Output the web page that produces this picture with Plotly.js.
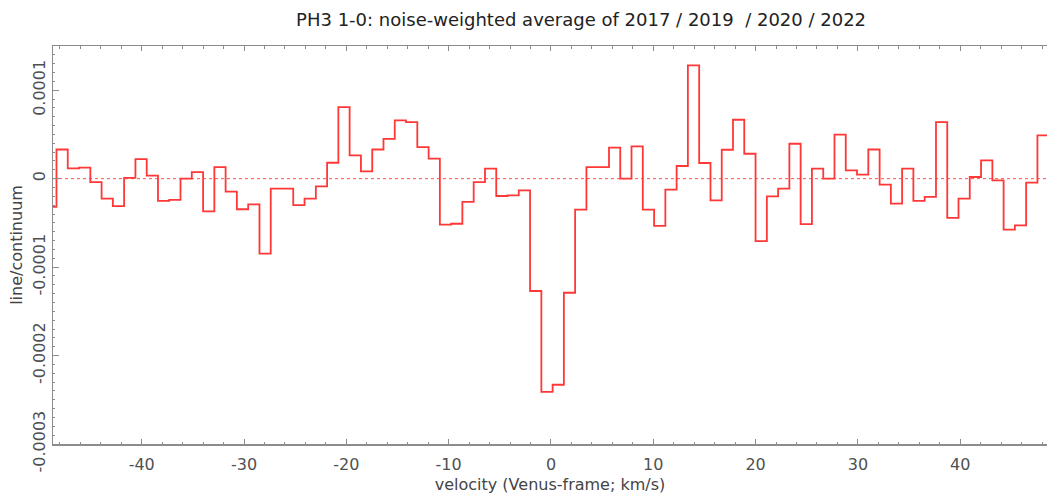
<!DOCTYPE html>
<html>
<head>
<meta charset="utf-8">
<script src="https://cdn.plot.ly/plotly-3.0.1.min.js"></script>
<style>
  html, body { margin: 0; padding: 0; background: #ffffff; }
  #chart { width: 1047px; height: 497px; }
</style>
</head>
<body>
<div id="chart"></div>
<script>
// Channel centres (Venus-frame velocity, km/s)
var velocity = [
  -48.88, -47.78, -46.68, -45.57, -44.47, -43.37, -42.27, -41.17, -40.06, -38.96,
  -37.86, -36.76, -35.66, -34.55, -33.45, -32.35, -31.25, -30.15, -29.04, -27.94,
  -26.84, -25.74, -24.64, -23.53, -22.43, -21.33, -20.23, -19.13, -18.02, -16.92,
  -15.82, -14.72, -13.62, -12.51, -11.41, -10.31, -9.21, -8.11, -7.00, -5.90,
  -4.80, -3.70, -2.60, -1.49, -0.39, 0.71, 1.81, 2.91, 4.02, 5.12,
  6.22, 7.32, 8.42, 9.53, 10.63, 11.73, 12.83, 13.93, 15.04, 16.14,
  17.24, 18.34, 19.44, 20.55, 21.65, 22.75, 23.85, 24.95, 26.06, 27.16,
  28.26, 29.36, 30.46, 31.57, 32.67, 33.77, 34.87, 35.97, 37.08, 38.18,
  39.28, 40.38, 41.48, 42.59, 43.69, 44.79, 45.89, 46.99, 48.10
];

// line/continuum for each channel
var lineContinuum = [
  -3.2e-5, 3.3e-5, 1.17e-5, 1.24e-5, -0.4e-5, -2.26e-5, -3.1e-5, 0.1e-5, 2.2e-5, 0.34e-5,
  -2.5e-5, -2.4e-5, 0.0, 0.75e-5, -3.7e-5, 1.3e-5, -1.47e-5, -3.46e-5, -2.9e-5, -8.47e-5,
  -1.13e-5, -1.13e-5, -3.0e-5, -2.26e-5, -0.87e-5, 1.8e-5, 8.1e-5, 2.63e-5, 0.83e-5, 3.3e-5,
  4.5e-5, 6.6e-5, 6.4e-5, 3.57e-5, 2.26e-5, -5.2e-5, -5.1e-5, -2.63e-5, -0.38e-5, 1.13e-5,
  -1.96e-5, -1.88e-5, -1.32e-5, -12.7e-5, -24.1e-5, -23.3e-5, -12.9e-5, -3.5e-5, 1.3e-5, 1.3e-5,
  3.5e-5, 0.0, 3.65e-5, -3.5e-5, -5.34e-5, -1.24e-5, 1.43e-5, 12.8e-5, 1.77e-5, -2.45e-5,
  3.27e-5, 6.66e-5, 2.82e-5, -7.07e-5, -2.0e-5, -1.13e-5, 3.95e-5, -5.15e-5, 1.13e-5, 0.0,
  4.97e-5, 0.94e-5, 0.45e-5, 3.3e-5, -0.68e-5, -2.82e-5, 1.13e-5, -2.52e-5, -2.07e-5, 6.4e-5,
  -4.44e-5, -2.26e-5, 0.19e-5, 2.07e-5, -0.19e-5, -5.76e-5, -5.27e-5, -0.45e-5, 4.9e-5
];

var yTickValues = [-0.0003, -0.0002, -0.0001, 0, 0.0001];
var yTickLabels = ['-0.0003', '-0.0002', '-0.0001', '0', '0.0001'];
var xTickValues = [-40, -30, -20, -10, 0, 10, 20, 30, 40];
var xTickLabels = ['-40', '-30', '-20', '-10', '0', '10', '20', '30', '40'];

// Histogram-style step: extend first/last channel by half a channel width
var n = velocity.length;
var dv = (velocity[n - 1] - velocity[0]) / (n - 1);
var stepX = [velocity[0] - dv / 2].concat(velocity, [velocity[n - 1] + dv / 2]);
var stepY = [lineContinuum[0]].concat(lineContinuum, [lineContinuum[n - 1]]);

var axisGray = 'rgb(140,140,140)';
var font = 'DejaVu Sans, Verdana, sans-serif';

var traces = [{
  type: 'scatter',
  mode: 'lines',
  x: stepX,
  y: stepY,
  line: { shape: 'hvh', color: 'rgb(255,55,55)', width: 1.8 },
  hoverinfo: 'x+y',
  showlegend: false
}];

var yMedium = [];
for (var i = 0; i < yTickValues.length; i++) { yMedium.push(yTickValues[i] + 0.00005); }

var layout = {
  width: 1047,
  height: 497,
  margin: { l: 53, r: 0, t: 46, b: 53, pad: 0 },
  paper_bgcolor: '#ffffff',
  plot_bgcolor: '#ffffff',
  showlegend: false,
  title: {
    text: 'PH3 1-0: noise-weighted average of 2017 / 2019  / 2020 / 2022',
    font: { family: font, size: 18, color: '#222222' },
    x: 0.555, xref: 'container', xanchor: 'center',
    y: 1 - 20 / 497, yref: 'container', yanchor: 'middle'
  },
  xaxis: {
    range: [-48.67, 48.48],
    tickmode: 'array',
    tickvals: xTickValues,
    ticktext: xTickLabels,
    ticks: 'inside',
    ticklen: 5,
    tickwidth: 1,
    tickcolor: axisGray,
    minor: { dtick: 2, tick0: 0, ticks: 'inside', ticklen: 2.5, tickcolor: axisGray, tickwidth: 1 },
    showline: true,
    linecolor: axisGray,
    linewidth: 1.5,
    mirror: 'allticks',
    showgrid: false,
    zeroline: false,
    ticklabelstandoff: 5,
    tickfont: { family: font, size: 16, color: '#505050' },
    title: {
      text: 'velocity (Venus-frame; km/s)',
      font: { family: font, size: 16, color: '#444444' },
      standoff: 6
    }
  },
  yaxis: {
    range: [-0.0003, 0.00015],
    tickmode: 'array',
    tickvals: yTickValues,
    ticktext: yTickLabels,
    tickangle: -90,
    ticks: 'inside',
    ticklen: 5.5,
    tickwidth: 1,
    tickcolor: axisGray,
    minor: { dtick: 0.00001, tick0: 0, ticks: 'inside', ticklen: 2, tickcolor: axisGray, tickwidth: 1 },
    showline: true,
    linecolor: axisGray,
    linewidth: 1.5,
    showgrid: false,
    zeroline: false,
    tickfont: { family: font, size: 16, color: '#505050' },
    title: {
      text: 'line/continuum',
      font: { family: font, size: 16, color: '#444444' },
      standoff: 3
    }
  },
  yaxis2: {
    overlaying: 'y',
    side: 'left',
    range: [-0.0003, 0.00015],
    tickmode: 'array',
    tickvals: yMedium,
    showticklabels: false,
    ticks: 'inside',
    ticklen: 3.5,
    tickcolor: axisGray,
    showline: false,
    showgrid: false,
    zeroline: false
  },
  shapes: [{
    type: 'line',
    xref: 'paper', x0: 0, x1: 1,
    yref: 'y', y0: 0, y1: 0,
    line: { color: 'rgb(255,80,80)', width: 1, dash: 'dot' },
    layer: 'below'
  }]
};

Plotly.newPlot('chart', traces, layout, { displayModeBar: false, staticPlot: true });
</script>
</body>
</html>
